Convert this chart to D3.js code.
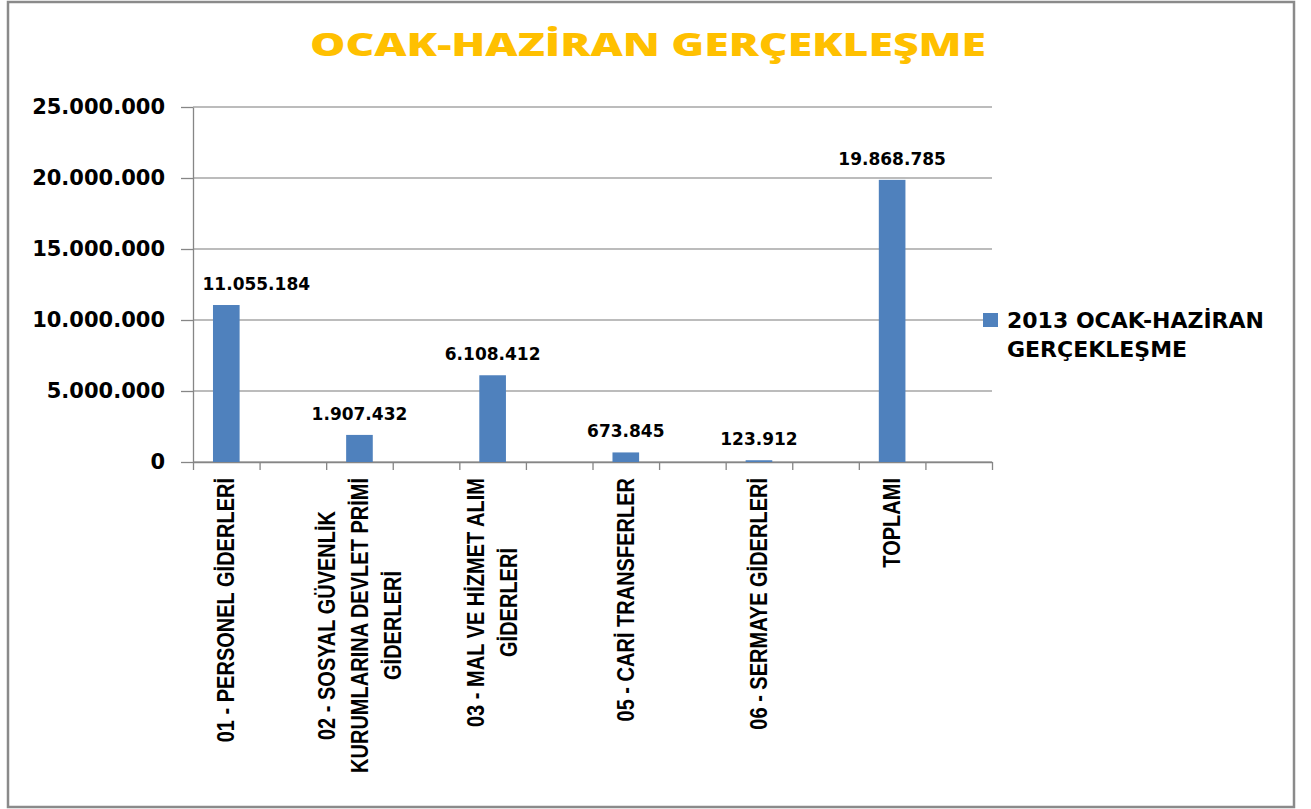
<!DOCTYPE html>
<html>
<head>
<meta charset="utf-8">
<script src="https://cdn.jsdelivr.net/npm/d3@7"></script>
<style>
  body { margin: 0; background: #fff; }
  svg { display: block; }
</style>
</head>
<body>
<div id="chart"></div>
<script>
// categories (every second slot is empty in the original sheet)
const categoryLines = [
    ["01 - PERSONEL GİDERLERİ"], [],
    ["02 - SOSYAL GÜVENLİK", "KURUMLARINA DEVLET PRİMİ", "GİDERLERİ"], [],
    ["03 - MAL VE HİZMET ALIM", "GİDERLERİ"], [],
    ["05 - CARİ TRANSFERLER"], [],
    ["06 - SERMAYE GİDERLERİ"], [],
    ["TOPLAMI"], []
];
const values = [11055184, null, 1907432, null, 6108412, null, 673845, null, 123912, null, 19868785, null];
const yTicks = [0, 5000000, 10000000, 15000000, 20000000, 25000000];
const seriesName = ["2013 OCAK-HAZİRAN", "GERÇEKLEŞME"];
const title = "OCAK-HAZİRAN GERÇEKLEŞME";

const width = 1311;
const height = 809;
const margin = { top: 107, right: 319, bottom: 347, left: 193 };
const barColor = "#4F81BD";
const numFont = "DejaVu Sans, Verdana, sans-serif";

// Turkish style thousands separator
const trFormat = d3.formatLocale({ decimal: ",", thousands: ".", grouping: [3], currency: ["", ""] }).format(",d");

const svg = d3.select("#chart")
    .append("svg")
    .attr("width", width)
    .attr("height", height);

// outer frame
svg.append("rect")
    .attr("x", 8).attr("y", 2)
    .attr("width", 1286).attr("height", 805)
    .attr("fill", "#fff")
    .attr("stroke", "#8a8a8a")
    .attr("stroke-width", 2.5);

const xScale = d3.scaleBand()
    .domain(d3.range(values.length))
    .range([margin.left, width - margin.right])
    .paddingInner(0.6)
    .paddingOuter(0.3);

// slot boundaries for the tick marks
const xEdges = d3.scaleLinear()
    .domain([0, values.length])
    .range([margin.left, width - margin.right]);

const yScale = d3.scaleLinear()
    .domain([0, 25000000])
    .range([height - margin.bottom, margin.top]);

// gridlines
svg.append("g")
    .selectAll("line")
    .data(yTicks)
    .enter().append("line")
    .attr("x1", margin.left)
    .attr("x2", width - margin.right)
    .attr("y1", d => yScale(d))
    .attr("y2", d => yScale(d))
    .attr("stroke", "#a6a6a6")
    .attr("stroke-width", 1.3);

// y axis
const yAxis = svg.append("g")
    .attr("transform", `translate(${margin.left}, 0)`)
    .call(d3.axisLeft(yScale).tickValues(yTicks).tickFormat(trFormat).tickSize(12).tickSizeOuter(0).tickPadding(16));
yAxis.selectAll("line, path").attr("stroke", "#868686").attr("stroke-width", 1.3);
yAxis.selectAll("text")
    .style("font-family", numFont)
    .style("font-weight", "bold")
    .style("font-size", "21px")
    .attr("fill", "#000");

// x axis
const xAxis = svg.append("g")
    .attr("transform", `translate(0, ${yScale(0)})`)
    .call(d3.axisBottom(xEdges).ticks(values.length).tickFormat("").tickSize(8).tickSizeOuter(0));
xAxis.selectAll("line, path").attr("stroke", "#868686").attr("stroke-width", 1.3);

// bars
const barData = values.map((v, i) => ({ i, v })).filter(d => d.v !== null);
svg.append("g")
    .selectAll("rect")
    .data(barData)
    .enter().append("rect")
    .attr("x", d => xScale(d.i))
    .attr("y", d => yScale(d.v))
    .attr("width", xScale.bandwidth())
    .attr("height", d => yScale(0) - yScale(d.v))
    .attr("fill", barColor);

// value labels (Excel nudged the first one to the right)
svg.append("g")
    .selectAll("text")
    .data(barData)
    .enter().append("text")
    .attr("x", d => xScale(d.i) + xScale.bandwidth() / 2 + (d.i === 0 ? 30 : 0))
    .attr("y", d => yScale(d.v) - 15)
    .attr("text-anchor", "middle")
    .style("font-family", numFont)
    .style("font-weight", "bold")
    .style("font-size", "17px")
    .text(d => trFormat(d.v));

// category labels, rotated, lines centred on each other
const catTop = yScale(0) + 16;
const lineGap = 33;
const squeeze = 0.87; // narrow bold face in the original
const catGroups = svg.append("g")
    .selectAll("g")
    .data(categoryLines.map((lines, i) => ({ i, lines })).filter(d => d.lines.length))
    .enter().append("g")
    .attr("transform", d => `translate(${xScale(d.i) + xScale.bandwidth() / 2}, ${catTop}) rotate(-90)`);

catGroups.each(function(d) {
    const g = d3.select(this);
    const n = d.lines.length;
    const texts = g.selectAll("text")
        .data(d.lines)
        .enter().append("text")
        .attr("y", (t, k) => (k - (n - 1) / 2) * lineGap)
        .attr("dy", "0.35em")
        .attr("text-anchor", "middle")
        .style("font-family", "'Liberation Sans', Arial, sans-serif")
        .style("font-weight", "bold")
        .style("font-size", "23px")
        .text(t => t);
    texts.each(function() {
        const len = this.getComputedTextLength();
        d3.select(this).attr("textLength", len * squeeze).attr("lengthAdjust", "spacingAndGlyphs");
    });
    const maxLen = d3.max(texts.nodes(), node => +node.getAttribute("textLength"));
    texts.attr("x", -maxLen / 2);
});

// title
svg.append("text")
    .attr("x", 648)
    .attr("y", 56)
    .attr("text-anchor", "middle")
    .attr("textLength", 676)
    .attr("lengthAdjust", "spacingAndGlyphs")
    .style("font-family", "'Open Sans', sans-serif")
    .style("font-weight", "800")
    .style("font-size", "32px")
    .attr("fill", "#FFC000")
    .text(title);

// legend
const legend = svg.append("g")
    .attr("transform", `translate(${width - margin.right - 9}, 313)`);

legend.append("rect")
    .attr("width", 15)
    .attr("height", 14)
    .attr("fill", barColor);

legend.selectAll("text")
    .data(seriesName)
    .enter().append("text")
    .attr("x", 24)
    .attr("y", (d, i) => 15 + i * 29)
    .style("font-family", numFont)
    .style("font-weight", "bold")
    .style("font-size", "22px")
    .text(d => d);
</script>
</body>
</html>
